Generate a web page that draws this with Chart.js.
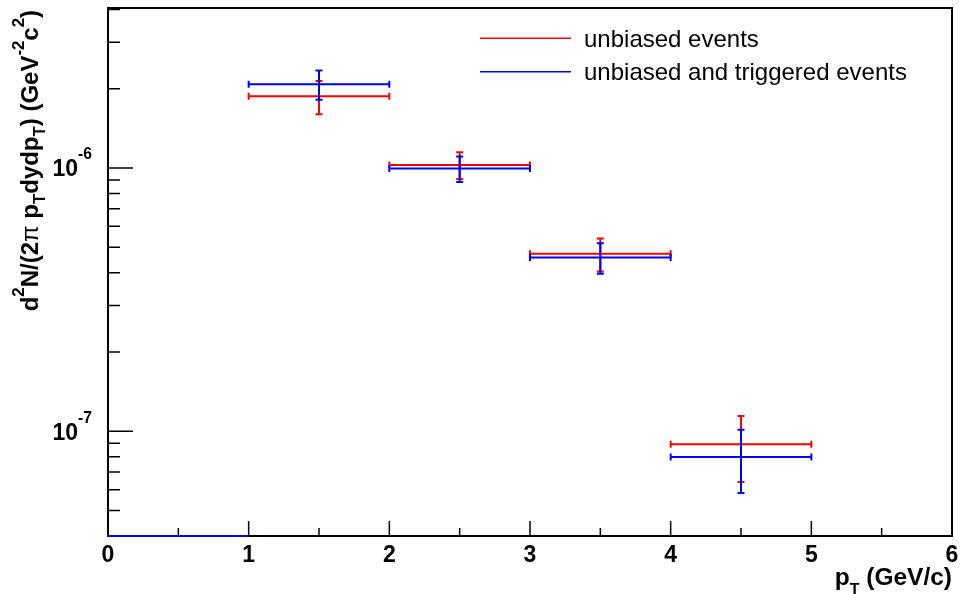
<!DOCTYPE html>
<html lang="en">
<head>
    <meta charset="UTF-8">
    <title>pT spectrum</title>
    <script src="https://cdn.jsdelivr.net/npm/chart.js"></script>
    <style>
        body { margin: 0; background: #fff; }
        #wrap { width: 961px; height: 594px; position: relative; }
    </style>
</head>
<body>
    <div id="wrap"><canvas id="spectrum"></canvas></div>

    <script>
        // pT bins (GeV/c) and yields per bin
        const binEdges = [0, 1, 2, 3, 4, 5];
        const unbiased = [0, 1.87e-6, 1.027e-6, 4.72e-7, 8.92e-8];
        const unbiasedErr = [0, 2.7e-7, 1.2e-7, 6.8e-8, 2.5e-8];
        const triggered = [0, 2.08e-6, 9.94e-7, 4.57e-7, 7.98e-8];
        const triggeredErr = [0, 2.65e-7, 1.1e-7, 6.1e-8, 2.15e-8];
        const xTickValues = [0, 1, 2, 3, 4, 5, 6];
        const yDecades = [1e-7, 1e-6];
        const seriesNames = ['unbiased events', 'unbiased and triggered events'];
        const seriesColors = ['#ff0000', '#0000ff'];

        const FONT = '"Liberation Sans", Arial, Helvetica, sans-serif';

        function toPoints(vals, errs) {
            return vals.map((v, i) => ({
                x: (binEdges[i] + binEdges[i + 1]) / 2,
                y: v,
                xLo: binEdges[i],
                xHi: binEdges[i + 1],
                err: errs[i]
            }));
        }

        // text with super/subscripts: parts = [text, shift(em), scale, weight]
        function drawRich(ctx, parts, x, y, size, weight, align) {
            const widths = parts.map(p => {
                ctx.font = (p[3] || weight) + ' ' + (size * (p[2] || 1)) + 'px ' + FONT;
                return ctx.measureText(p[0]).width;
            });
            const total = widths.reduce((a, b) => a + b, 0);
            let cx = align === 'right' ? x - total : align === 'center' ? x - total / 2 : x;
            ctx.textAlign = 'left';
            ctx.textBaseline = 'alphabetic';
            parts.forEach((p, i) => {
                ctx.font = (p[3] || weight) + ' ' + (size * (p[2] || 1)) + 'px ' + FONT;
                ctx.fillText(p[0], cx, y + (p[1] || 0) * size);
                cx += widths[i];
            });
        }

        const rootFrame = {
            id: 'rootFrame',
            afterDatasetsDraw(chart) {
                const { ctx, chartArea: a, scales: { x, y } } = chart;
                ctx.save();
                ctx.lineCap = 'butt';

                // frame
                ctx.strokeStyle = '#000';
                ctx.lineWidth = 2;
                ctx.strokeRect(a.left, a.top, a.right - a.left, a.bottom - a.top);

                // x ticks
                ctx.lineWidth = 1.5;
                ctx.beginPath();
                xTickValues.forEach((v, i) => {
                    const px = x.getPixelForValue(v);
                    ctx.moveTo(px, a.bottom); ctx.lineTo(px, a.bottom - 15);
                    if (i < xTickValues.length - 1) {
                        const pm = x.getPixelForValue(v + 0.5);
                        ctx.moveTo(pm, a.bottom); ctx.lineTo(pm, a.bottom - 8);
                    }
                });
                // y ticks (log)
                for (let e = -8; e <= -6; e++) {
                    for (let m = 1; m <= 9; m++) {
                        const v = m * Math.pow(10, e);
                        if (v <= y.min || v >= y.max) continue;
                        const py = y.getPixelForValue(v);
                        ctx.moveTo(a.left, py); ctx.lineTo(a.left + (m === 1 ? 25 : 12), py);
                    }
                }
                ctx.stroke();

                // error bars
                chart.data.datasets.forEach(ds => {
                    ctx.strokeStyle = ds.borderColor;
                    ctx.lineWidth = 2;
                    ds.data.forEach(p => {
                        const x0 = x.getPixelForValue(p.xLo);
                        const x1 = x.getPixelForValue(p.xHi);
                        const xc = x.getPixelForValue(p.x);
                        if (p.y <= 0) {
                            ctx.beginPath();
                            ctx.moveTo(x0, a.bottom);
                            ctx.lineTo(x1, a.bottom);
                            ctx.stroke();
                            return;
                        }
                        const yc = y.getPixelForValue(p.y);
                        const yt = y.getPixelForValue(p.y + p.err);
                        const yb = y.getPixelForValue(p.y - p.err);
                        ctx.beginPath();
                        ctx.moveTo(x0, yc); ctx.lineTo(x1, yc);
                        ctx.moveTo(x0, yc - 3.5); ctx.lineTo(x0, yc + 3.5);
                        ctx.moveTo(x1, yc - 3.5); ctx.lineTo(x1, yc + 3.5);
                        ctx.moveTo(xc, yt); ctx.lineTo(xc, yb);
                        ctx.moveTo(xc - 3.5, yt); ctx.lineTo(xc + 3.5, yt);
                        ctx.moveTo(xc - 3.5, yb); ctx.lineTo(xc + 3.5, yb);
                        ctx.stroke();
                    });
                });

                // tick labels
                ctx.fillStyle = '#000';
                xTickValues.forEach(v => {
                    drawRich(ctx, [[String(v)]], x.getPixelForValue(v), a.bottom + 26, 23, 'bold', 'center');
                });
                yDecades.forEach(v => {
                    const py = y.getPixelForValue(v);
                    const exp = Math.round(Math.log10(v));
                    drawRich(ctx, [['10'], [String(exp), -0.74, 0.68]], 92, py + 8.5, 23, 'bold', 'right');
                });

                // axis titles
                drawRich(ctx, [['p'], ['T', 0.4, 0.65], [' (GeV/c)']], a.right, 585, 24.5, 'bold', 'right');
                ctx.save();
                ctx.translate(38, 10);
                ctx.rotate(-Math.PI / 2);
                drawRich(ctx, [
                    ['d'], ['2', -0.6, 0.7], ['N/(2'], ['\u03c0', 0, 1, 'normal'], [' p'], ['T', 0.3, 0.7],
                    ['dydp'], ['T', 0.3, 0.7], [') (GeV'], ['-2', -0.6, 0.7], ['c'], ['2', -0.6, 0.7], [')']
                ], 0, 0, 24, 'bold', 'right');
                ctx.restore();

                // legend
                chart.data.datasets.forEach((ds, i) => {
                    const ly = 38.3 + i * 33.4;
                    ctx.strokeStyle = ds.borderColor;
                    ctx.lineWidth = 1.5;
                    ctx.beginPath();
                    ctx.moveTo(480, ly); ctx.lineTo(571, ly);
                    ctx.stroke();
                    ctx.fillStyle = '#000';
                    drawRich(ctx, [[ds.label]], 584, ly + 8.5, 24, 'normal', 'left');
                });
                ctx.restore();
            }
        };

        new Chart(document.getElementById('spectrum'), {
            type: 'scatter',
            data: {
                datasets: [
                    { label: seriesNames[0], data: toPoints(unbiased, unbiasedErr), borderColor: seriesColors[0], pointRadius: 0 },
                    { label: seriesNames[1], data: toPoints(triggered, triggeredErr), borderColor: seriesColors[1], pointRadius: 0 }
                ]
            },
            options: {
                responsive: true,
                maintainAspectRatio: false,
                animation: false,
                layout: { padding: { left: 108, top: 8, right: 9, bottom: 58 } },
                plugins: { legend: { display: false }, tooltip: { enabled: false } },
                scales: {
                    x: { type: 'linear', min: 0, max: 6, display: false },
                    y: { type: 'logarithmic', min: 4e-8, max: 4.05e-6, display: false }
                }
            },
            plugins: [rootFrame]
        });
    </script>
</body>
</html>
